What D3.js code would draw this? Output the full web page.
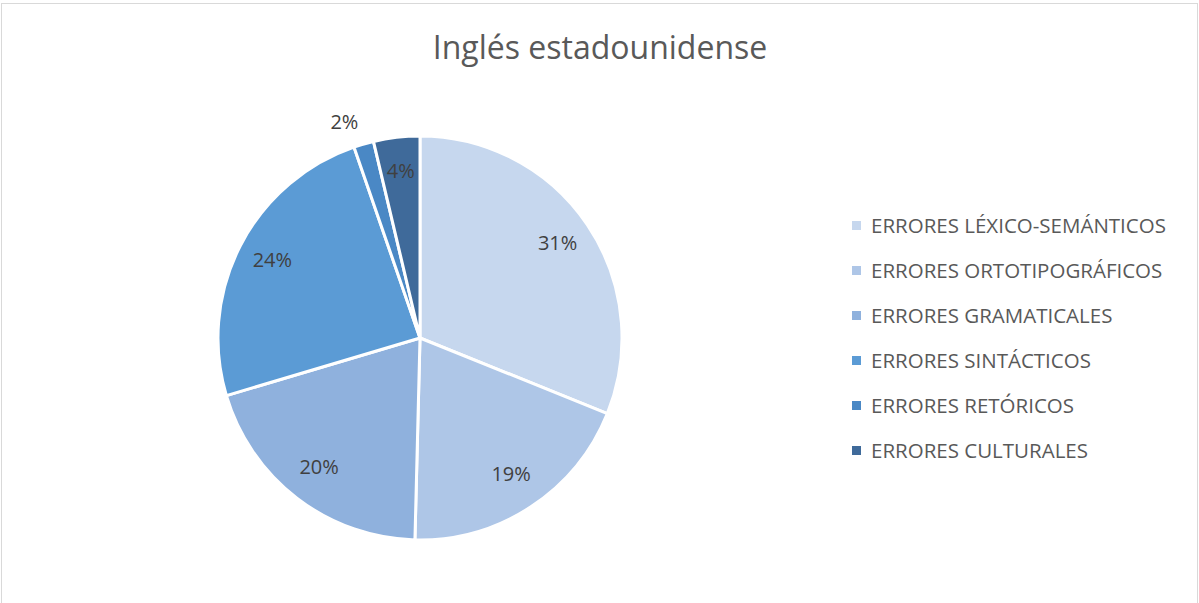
<!DOCTYPE html>
<html>
<head>
<meta charset="utf-8">
<script src="https://cdn.jsdelivr.net/npm/d3@7"></script>
<style>
  html, body { margin: 0; padding: 0; background: #fff; }
  svg { display: block; }
  text { font-family: "Open Sans", "Noto Sans", sans-serif; }
</style>
</head>
<body>
<svg id="chart" width="1199" height="603"></svg>
<script>
const title = "Inglés estadounidense";
const categories = [
  "ERRORES LÉXICO-SEMÁNTICOS",
  "ERRORES ORTOTIPOGRÁFICOS",
  "ERRORES GRAMATICALES",
  "ERRORES SINTÁCTICOS",
  "ERRORES RETÓRICOS",
  "ERRORES CULTURALES"
];
const values = [31.1, 19.3, 20.0, 24.3, 1.6, 3.7];
const colors = ["#c6d7ee", "#aec6e7", "#8fb1dd", "#5b9bd5", "#4a88c5", "#3f6a9a"];

const svg = d3.select("#chart");
const W = 1199, H = 603;

// border
svg.append("rect")
  .attr("x", 1.5).attr("y", 3.5)
  .attr("width", W - 3).attr("height", H + 10)
  .attr("fill", "#fff").attr("stroke", "#d9d9d9").attr("stroke-width", 1);

// title
svg.append("text")
  .attr("x", 600).attr("y", 59)
  .attr("text-anchor", "middle")
  .attr("font-size", 32)
  .attr("fill", "#595959")
  .text(title);

const cx = 420, cy = 338, R = 202;
const total = d3.sum(values);
const pie = d3.pie().sort(null).value(d => d);
const arcs = pie(values);
const arc = d3.arc().innerRadius(0).outerRadius(R);

const g = svg.append("g").attr("transform", `translate(${cx},${cy})`);
g.selectAll("path.slice")
  .data(arcs)
  .join("path")
  .attr("class", "slice")
  .attr("d", arc)
  .attr("fill", (d, i) => colors[i])
  .attr("stroke", "#fff")
  .attr("stroke-width", 3)
  .attr("stroke-linejoin", "round");

const inArc = d3.arc().innerRadius(166).outerRadius(166);
const outArc = d3.arc().innerRadius(228).outerRadius(228);
g.selectAll("text.lbl")
  .data(arcs)
  .join("text")
  .attr("class", "lbl")
  .each(function(d) {
    const pct = d.value / total * 100;
    const outside = pct < 3;
    const p = (outside ? outArc : inArc).centroid(d);
    d3.select(this)
      .attr("x", p[0] + (outside ? -12 : 0))
      .attr("y", p[1] + (outside ? 2 : -3))
      .text(Math.round(pct) + "%");
  })
  .attr("text-anchor", "middle")
  .attr("dominant-baseline", "central")
  .attr("font-size", 20)
  .attr("fill", "#404040");

// legend
const legend = svg.append("g").attr("transform", "translate(852,225)");
const rows = legend.selectAll("g")
  .data(categories)
  .join("g")
  .attr("transform", (d, i) => `translate(0,${i * 45})`);
rows.append("rect")
  .attr("x", 0).attr("y", -4)
  .attr("width", 9).attr("height", 9)
  .attr("fill", (d, i) => colors[i]);
rows.append("text")
  .attr("x", 19).attr("y", 0)
  .attr("dominant-baseline", "central")
  .attr("font-size", 20.5)
  .attr("fill", "#595959")
  .text(d => d);
</script>
</body>
</html>
